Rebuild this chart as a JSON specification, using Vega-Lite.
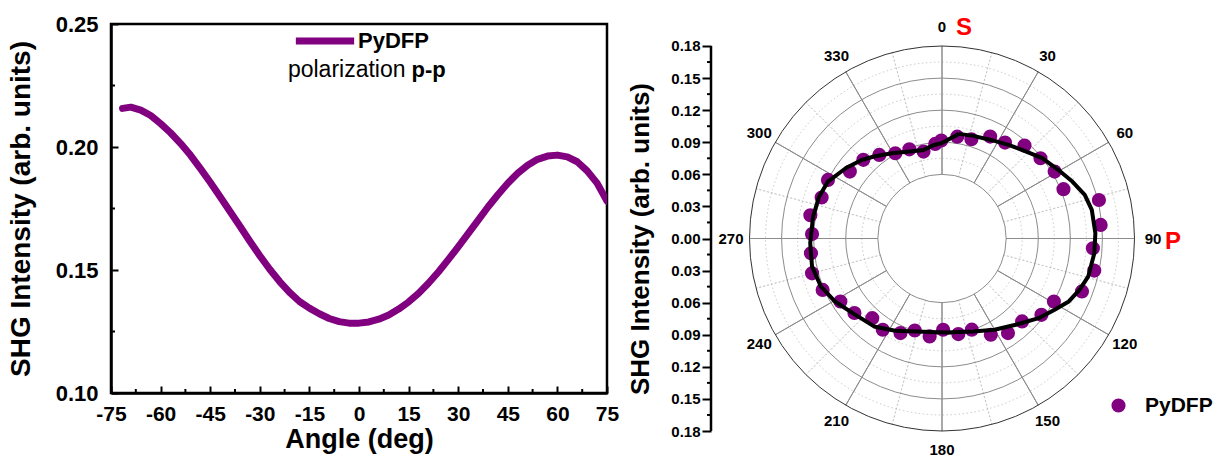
{
  "$schema": "https://vega.github.io/schema/vega-lite/v6.json",
  "padding": {"left": 5, "top": 6, "right": 0, "bottom": 0},
  "background": "white",
  "bounds": "flush",
  "spacing": 104,
  "config": {
    "font": "Liberation Sans",
    "text": {"font": "Liberation Sans"},
    "legend": {"labelFont": "Liberation Sans", "titleFont": "Liberation Sans"}
  },
  "resolve": {"scale": {"color": "independent"}, "legend": {"color": "independent"}},
  "hconcat": [
    {
      "width": 496,
      "height": 369,
      "view": {"stroke": "black", "strokeWidth": 2.5},
      "layer": [
        {
          "data": {"values": [
            {"angle": -71.5, "v": 0.2157}, {"angle": -69, "v": 0.2162}, {"angle": -66, "v": 0.2150},
            {"angle": -63, "v": 0.2128}, {"angle": -60, "v": 0.2095}, {"angle": -57, "v": 0.2058},
            {"angle": -54, "v": 0.2015}, {"angle": -51, "v": 0.1967}, {"angle": -48, "v": 0.1913},
            {"angle": -45, "v": 0.1857}, {"angle": -42, "v": 0.1798}, {"angle": -39, "v": 0.1738},
            {"angle": -36, "v": 0.1678}, {"angle": -33, "v": 0.1617}, {"angle": -30, "v": 0.1558},
            {"angle": -27, "v": 0.1503}, {"angle": -24, "v": 0.1453}, {"angle": -21, "v": 0.1409},
            {"angle": -18, "v": 0.1372}, {"angle": -15, "v": 0.1345}, {"angle": -12, "v": 0.1322},
            {"angle": -9, "v": 0.1303}, {"angle": -6, "v": 0.1290}, {"angle": -3, "v": 0.1284},
            {"angle": 0, "v": 0.1284}, {"angle": 3, "v": 0.1289}, {"angle": 6, "v": 0.1300},
            {"angle": 9, "v": 0.1317}, {"angle": 12, "v": 0.1341}, {"angle": 15, "v": 0.1370},
            {"angle": 18, "v": 0.1405}, {"angle": 21, "v": 0.1446}, {"angle": 24, "v": 0.1492},
            {"angle": 27, "v": 0.1542}, {"angle": 30, "v": 0.1594}, {"angle": 33, "v": 0.1648},
            {"angle": 36, "v": 0.1702}, {"angle": 39, "v": 0.1756}, {"angle": 42, "v": 0.1806},
            {"angle": 45, "v": 0.1853}, {"angle": 48, "v": 0.1893}, {"angle": 51, "v": 0.1926},
            {"angle": 54, "v": 0.1950}, {"angle": 57, "v": 0.1963}, {"angle": 60, "v": 0.1967},
            {"angle": 63, "v": 0.1960}, {"angle": 66, "v": 0.1940}, {"angle": 69, "v": 0.1903},
            {"angle": 72, "v": 0.1853}, {"angle": 75, "v": 0.1780}
          ]},
          "mark": {"type": "line", "strokeWidth": 7, "strokeCap": "round", "strokeJoin": "round", "clip": true},
          "encoding": {
            "x": {
              "field": "angle", "type": "quantitative",
              "scale": {"domain": [-75, 75], "nice": false, "zero": false},
              "axis": {
                "title": "Angle (deg)",
                "values": [-75, -60, -45, -30, -15, 0, 15, 30, 45, 60, 75],
                "tickCount": 50,
                "labelExpr": "'' + datum.value",
                "grid": false,
                "labelFlush": false,
                "labelOverlap": false,
                "domainColor": "black", "domainWidth": 2.5,
                "tickColor": "black", "tickWidth": 2,
                "tickSize": -7,
                "labelPadding": 17,
                "labelFontSize": 21, "labelFontWeight": "bold", "labelColor": "black",
                "titleFontSize": 27, "titleFontWeight": "bold", "titleColor": "black", "titlePadding": 2
              }
            },
            "y": {
              "field": "v", "type": "quantitative",
              "scale": {"domain": [0.1, 0.25], "nice": false, "zero": false},
              "axis": {
                "title": "SHG Intensity (arb. units)",
                "values": [0.1, 0.15, 0.2, 0.25],
                "tickCount": 50,
                "format": ".2f",
                "grid": false,
                "labelFlush": false,
                "labelOverlap": false,
                "domainColor": "black", "domainWidth": 2.5,
                "tickColor": "black", "tickWidth": 2,
                "tickSize": -7,
                "labelPadding": 20,
                "labelFontSize": 22, "labelFontWeight": "bold", "labelColor": "black",
                "titleFontSize": 28, "titleFontWeight": "bold", "titleColor": "black", "titlePadding": 20
              }
            },
            "color": {
              "datum": "PyDFP",
              "scale": {"domain": ["PyDFP"], "range": ["#800080"]},
              "legend": {
                "title": null, "orient": "none", "legendX": 181, "legendY": -16,
                "symbolType": "stroke", "symbolStrokeWidth": 7, "symbolSize": 3400,
                "labelFontSize": 22, "labelFontWeight": "bold", "labelColor": "black", "labelOffset": 0, "padding": 0
              }
            }
          }
        },
        {
          "data": {"values": [{"t": -67.5}, {"t": -52.5}, {"t": -37.5}, {"t": -22.5}, {"t": -7.5}, {"t": 7.5}, {"t": 22.5}, {"t": 37.5}, {"t": 52.5}, {"t": 67.5}]},
          "mark": {"type": "rule", "color": "black", "strokeWidth": 2},
          "encoding": {"x": {"field": "t", "type": "quantitative"}, "y": {"datum": 0.1}, "y2": {"datum": 0.10163}}
        },
        {
          "data": {"values": [{"t": 0.125}, {"t": 0.175}, {"t": 0.225}]},
          "mark": {"type": "rule", "color": "black", "strokeWidth": 2},
          "encoding": {"y": {"field": "t", "type": "quantitative"}, "x": {"datum": -75}, "x2": {"datum": -73.79}}
        },
        {
          "data": {"values": [{}]},
          "mark": {"type": "text", "text": "polarization", "align": "left", "baseline": "middle", "fontSize": 23, "color": "black"},
          "encoding": {"x": {"datum": -21.5}, "y": {"datum": 0.2313}}
        },
        {
          "data": {"values": [{}]},
          "mark": {"type": "text", "text": "p-p", "align": "left", "baseline": "middle", "fontSize": 22, "fontWeight": "bold", "color": "black"},
          "encoding": {"x": {"datum": 15.9}, "y": {"datum": 0.2313}}
        }
      ]
    },
    {
      "width": 462,
      "height": 429,
      "view": {"stroke": null},
      "layer": [
        {
          "data": {"values": [{"r": 0.075}, {"r": 0.105}, {"r": 0.135}, {"r": 0.165}]},
          "mark": {"type": "arc", "theta": 0, "theta2": 6.2832, "filled": false, "stroke": "#bbbbbb", "strokeWidth": 0.8, "strokeDash": [1.5, 2.5]},
          "encoding": {
            "radius": {"field": "r", "type": "quantitative", "stack": null, "scale": {"type": "linear", "domain": [0, 0.18], "range": [0, 192.5], "zero": true, "nice": false}}
          }
        },
        {
          "data": {"values": [{"a": 15}, {"a": 45}, {"a": 75}, {"a": 105}, {"a": 135}, {"a": 165}, {"a": 195}, {"a": 225}, {"a": 255}, {"a": 285}, {"a": 315}, {"a": 345}]},
          "mark": {"type": "arc", "filled": false, "stroke": "#bbbbbb", "strokeWidth": 0.8, "strokeDash": [1.5, 2.5]},
          "encoding": {
            "theta": {"field": "a", "type": "quantitative", "stack": null, "scale": {"domain": [0, 360], "range": [0, 6.283185307179586]}},
            "theta2": {"field": "a"},
            "radius": {"datum": 0.06},
            "radius2": {"datum": 0.18}
          }
        },
        {
          "data": {"values": [{"r": 0.06}, {"r": 0.09}, {"r": 0.12}, {"r": 0.15}]},
          "mark": {"type": "arc", "theta": 0, "theta2": 6.2832, "filled": false, "stroke": "#8c8c8c", "strokeWidth": 1},
          "encoding": {
            "radius": {"field": "r", "type": "quantitative", "stack": null}
          }
        },
        {
          "data": {"values": [{"a": 0}, {"a": 30}, {"a": 60}, {"a": 90}, {"a": 120}, {"a": 150}, {"a": 180}, {"a": 210}, {"a": 240}, {"a": 270}, {"a": 300}, {"a": 330}]},
          "mark": {"type": "arc", "filled": false, "stroke": "#8c8c8c", "strokeWidth": 1},
          "encoding": {
            "theta": {"field": "a", "type": "quantitative", "stack": null},
            "theta2": {"field": "a"},
            "radius": {"datum": 0.06},
            "radius2": {"datum": 0.18}
          }
        },
        {
          "data": {"values": [{"r": 0.18}]},
          "mark": {"type": "arc", "theta": 0, "theta2": 6.2832, "filled": false, "stroke": "#333333", "strokeWidth": 1},
          "encoding": {
            "radius": {"field": "r", "type": "quantitative", "stack": null}
          }
        },
        {
          "data": {"values": [
            {"a": 0, "t": "0"}, {"a": 30, "t": "30"}, {"a": 60, "t": "60"}, {"a": 90, "t": "90"},
            {"a": 120, "t": "120"}, {"a": 150, "t": "150"}, {"a": 180, "t": "180"}, {"a": 210, "t": "210"},
            {"a": 240, "t": "240"}, {"a": 270, "t": "270"}, {"a": 300, "t": "300"}, {"a": 330, "t": "330"}
          ]},
          "mark": {"type": "text", "fontSize": 15, "fontWeight": "bold", "color": "black", "align": "center", "baseline": "middle"},
          "encoding": {
            "theta": {"field": "a", "type": "quantitative", "stack": null},
            "radius": {"datum": 0.1973},
            "text": {"field": "t"}
          }
        },
        {
          "data": {"values": [{"a": 0, "t": "S"}]},
          "mark": {"type": "text", "fontSize": 24, "fontWeight": "bold", "color": "#ff0000", "align": "center", "baseline": "middle", "dx": 22, "dy": 1},
          "encoding": {
            "theta": {"field": "a", "type": "quantitative", "stack": null},
            "radius": {"datum": 0.1973},
            "text": {"field": "t"}
          }
        },
        {
          "data": {"values": [{"a": 90, "t": "P"}]},
          "mark": {"type": "text", "fontSize": 24, "fontWeight": "bold", "color": "#ff0000", "align": "center", "baseline": "middle", "dx": 20, "dy": 3},
          "encoding": {
            "theta": {"field": "a", "type": "quantitative", "stack": null},
            "radius": {"datum": 0.1973},
            "text": {"field": "t"}
          }
        },
        {
          "data": {"values": [
            {"angle": 280, "r": 0.125}, {"angle": 272, "r": 0.1216}, {"angle": 263.6, "r": 0.1233},
            {"angle": 255, "r": 0.1258}, {"angle": 246.7, "r": 0.1215}, {"angle": 238.2, "r": 0.1118},
            {"angle": 229.6, "r": 0.1075}, {"angle": 221.2, "r": 0.099}, {"angle": 213, "r": 0.1017},
            {"angle": 203.7, "r": 0.0966}, {"angle": 196.5, "r": 0.0897}, {"angle": 187.2, "r": 0.0923},
            {"angle": 179.3, "r": 0.0853}, {"angle": 170.3, "r": 0.0907}, {"angle": 161.9, "r": 0.0897},
            {"angle": 153.1, "r": 0.1009}, {"angle": 145.1, "r": 0.1078}, {"angle": 136, "r": 0.1078},
            {"angle": 127.5, "r": 0.1172}, {"angle": 119.4, "r": 0.1201}, {"angle": 110.7, "r": 0.1399},
            {"angle": 101.9, "r": 0.1455}, {"angle": 93.7, "r": 0.1414}, {"angle": 85.1, "r": 0.1489},
            {"angle": 76.2, "r": 0.1511}, {"angle": 67.9, "r": 0.1226}, {"angle": 59.3, "r": 0.1225},
            {"angle": 50.8, "r": 0.1188}, {"angle": 41.6, "r": 0.1162}, {"angle": 33.3, "r": 0.1073},
            {"angle": 25.3, "r": 0.1054}, {"angle": 16.5, "r": 0.0968}, {"angle": 8.5, "r": 0.0963},
            {"angle": 359.6, "r": 0.0916}, {"angle": 355.9, "r": 0.0887}, {"angle": 348, "r": 0.0831},
            {"angle": 339.9, "r": 0.0888}, {"angle": 331.3, "r": 0.0909}, {"angle": 323.1, "r": 0.0977},
            {"angle": 315, "r": 0.104}, {"angle": 306, "r": 0.1065}, {"angle": 297.2, "r": 0.1199},
            {"angle": 288.8, "r": 0.1189}
          ]},
          "transform": [
            {"calculate": "datum.r * sin(datum.angle * PI / 180)", "as": "px"},
            {"calculate": "datum.r * cos(datum.angle * PI / 180)", "as": "py"}
          ],
          "mark": {"type": "point", "filled": true, "size": 200, "opacity": 1},
          "encoding": {
            "x": {"field": "px", "type": "quantitative", "scale": {"domain": [-0.216, 0.216], "nice": false, "zero": false}, "axis": null},
            "y": {
              "field": "py", "type": "quantitative",
              "scale": {"domain": [-0.20057, 0.20057], "nice": false, "zero": false},
              "axis": {
                "title": "SHG Intensity (arb. units)",
                "domain": false,
                "grid": false,
                "values": [-0.18, -0.15, -0.12, -0.09, -0.06, -0.03, 0, 0.03, 0.06, 0.09, 0.12, 0.15, 0.18],
                "tickCount": 50,
                "labelExpr": "format(abs(datum.value), '.2f')",
                "labelFlush": false,
                "labelOverlap": false,
                "tickColor": "black", "tickWidth": 2,
                "tickSize": 9,
                "labelPadding": 2,
                "labelFontSize": 15, "labelFontWeight": "bold", "labelColor": "black",
                "titleFontSize": 26, "titleFontWeight": "bold", "titleColor": "black", "titlePadding": 17
              }
            },
            "color": {
              "datum": "PyDFP",
              "scale": {"domain": ["PyDFP"], "range": ["#800080"]},
              "legend": {
                "title": null, "orient": "none", "legendX": 397, "legendY": 371,
                "symbolType": "circle", "symbolSize": 200, "symbolStrokeWidth": 0,
                "labelFontSize": 21, "labelFontWeight": "bold", "labelColor": "black", "labelOffset": 16, "padding": 0
              }
            }
          }
        },
        {
          "data": {"values": [
            {"angle": 9.2, "r": 0.0991}, {"angle": 16.9, "r": 0.1003}, {"angle": 26.4, "r": 0.1029},
            {"angle": 35.4, "r": 0.1074}, {"angle": 44.1, "r": 0.1132}, {"angle": 51.3, "r": 0.1201},
            {"angle": 59.4, "r": 0.1262}, {"angle": 66.4, "r": 0.133}, {"angle": 73, "r": 0.1396},
            {"angle": 79.2, "r": 0.1426}, {"angle": 88, "r": 0.1435}, {"angle": 95.5, "r": 0.1431},
            {"angle": 104.5, "r": 0.1413}, {"angle": 110.5, "r": 0.1372}, {"angle": 116.4, "r": 0.1324},
            {"angle": 122.3, "r": 0.1246}, {"angle": 129.5, "r": 0.1171}, {"angle": 139.5, "r": 0.1061},
            {"angle": 150.1, "r": 0.0984}, {"angle": 161.5, "r": 0.0916}, {"angle": 178.3, "r": 0.0879},
            {"angle": 195.3, "r": 0.0901}, {"angle": 206.9, "r": 0.0967}, {"angle": 217.7, "r": 0.1039},
            {"angle": 230.1, "r": 0.1088}, {"angle": 239.5, "r": 0.1161}, {"angle": 248.4, "r": 0.1218},
            {"angle": 257.9, "r": 0.1243}, {"angle": 268, "r": 0.1233}, {"angle": 279.7, "r": 0.1223},
            {"angle": 288.9, "r": 0.1214}, {"angle": 296.5, "r": 0.1192}, {"angle": 306.1, "r": 0.1115},
            {"angle": 314.3, "r": 0.1051}, {"angle": 320.3, "r": 0.0996}, {"angle": 329.5, "r": 0.0926},
            {"angle": 339.4, "r": 0.0868}, {"angle": 348.3, "r": 0.0846}, {"angle": 355.2, "r": 0.0878},
            {"angle": 359.6, "r": 0.0891}, {"angle": 369.2, "r": 0.0991}
          ]},
          "transform": [
            {"calculate": "datum.r * sin(datum.angle * PI / 180)", "as": "px"},
            {"calculate": "datum.r * cos(datum.angle * PI / 180)", "as": "py"}
          ],
          "mark": {"type": "line", "color": "black", "strokeWidth": 4, "strokeJoin": "round"},
          "encoding": {
            "x": {"field": "px", "type": "quantitative"},
            "y": {"field": "py", "type": "quantitative"},
            "order": {"field": "angle", "type": "quantitative"}
          }
        },
        {
          "data": {"values": [
            {"t": -0.165}, {"t": -0.135}, {"t": -0.105}, {"t": -0.075}, {"t": -0.045}, {"t": -0.015},
            {"t": 0.015}, {"t": 0.045}, {"t": 0.075}, {"t": 0.105}, {"t": 0.135}, {"t": 0.165}
          ]},
          "mark": {"type": "rule", "color": "black", "strokeWidth": 2},
          "encoding": {"y": {"field": "t", "type": "quantitative"}, "x": {"datum": -0.216}, "x2": {"datum": -0.2197}}
        },
        {
          "data": {"values": [{}]},
          "mark": {"type": "rule", "color": "black", "strokeWidth": 2.5},
          "encoding": {
            "x": {"datum": -0.216},
            "y": {"datum": -0.18},
            "y2": {"datum": 0.18}
          }
        }
      ]
    }
  ]
}
